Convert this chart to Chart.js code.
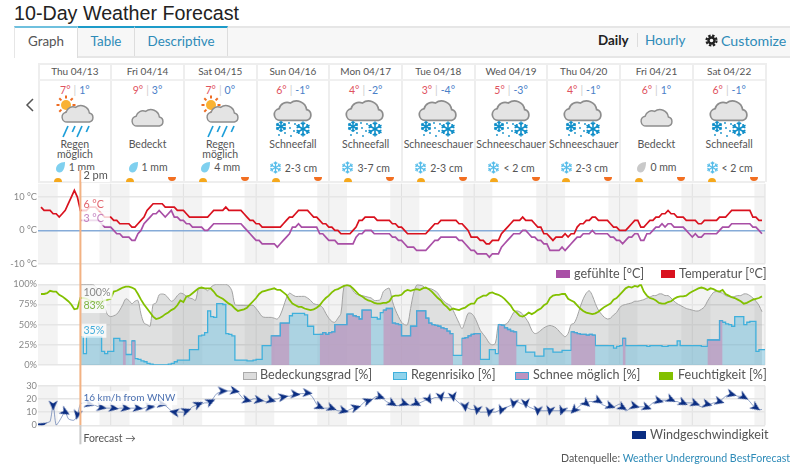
<!DOCTYPE html>
<html lang="de">
<head>
<meta charset="utf-8">
<title>10-Day Weather Forecast</title>
<script src="https://cdn.jsdelivr.net/npm/chart.js@4/dist/chart.umd.min.js"></script>
<style>
  html, body { margin: 0; padding: 0; background: #fff; }
  body { width: 800px; height: 473px; overflow: hidden; position: relative; font-family: Lato, sans-serif; color: #555; }
  .abs { position: absolute; white-space: nowrap; }
  #title { left: 14px; top: 1px; font: 19.7px "Liberation Sans", Arial, sans-serif; color: #222; line-height: 24px; }
  #tabbar { left: 14px; top: 26px; width: 776px; height: 28px; background: #f7f7f7; border-top: 2px solid #e6e6e6; border-bottom: 2px solid #e6e6e6; }
  .tab { top: 26px; height: 28px; line-height: 27px; text-align: center; font-size: 13.4px; border-top: 2px solid #1d9bc9; border-right: 1px solid #ddd; color: #2e8bb8; box-sizing: content-box; }
  .link { color: #2e8bb8; }
  .rule { position: absolute; background: #eee; }
  .cell { position: absolute; top: 63px; width: 72.7px; height: 118px; border-right: 0; text-align: center; overflow: visible; }
  .date { height: 16px; line-height: 17px; font-size: 10px; border-bottom: 2px solid #f0f0f0; }
  .temps { position: absolute; top: 21px; left: 0; right: 0; font-size: 10.5px; line-height: 12px; }
  .hi { color: #e0525e; } .lo { color: #4a80c8; } .sep { color: #ccc; margin: 0 3px; }
  .cell svg { position: absolute; left: 0; top: 32px; }
  .cond { position: absolute; top: 76px; left: -3px; right: -3px; font-size: 10.5px; line-height: 10px; }
  .prec { position: absolute; top: 98px; left: 0; right: 0; font-size: 10.5px; line-height: 12px; }
  .prec svg { position: static; vertical-align: -2px; margin-right: 3px; }
  .rise { position: absolute; top: 115px; width: 8px; height: 4px; border-radius: 4px 4px 0 0; background: #f5a81c; }
  .set { position: absolute; top: 114px; width: 8px; height: 4px; border-radius: 0 0 4px 4px; background: #f26f21; }
  canvas { position: absolute; left: 0; }
  .swatch { position: absolute; width: 14px; height: 8px; box-sizing: border-box; border: 1px solid; }
  .legend { position: absolute; font-size: 12.6px; line-height: 14px; color: #555; white-space: nowrap; }
</style>
</head>
<body>
<div class="abs" id="title">10-Day Weather Forecast</div>
<div class="abs" id="tabbar"></div>
<div class="abs tab" style="left:14px;width:62px;background:#fff;border-top-color:#6fc0de;color:#555;height:30px;border-left:1px solid #e6e6e6;">Graph</div>
<div class="abs tab" style="left:78px;width:56px;">Table</div>
<div class="abs tab" style="left:135px;width:92px;">Descriptive</div>
<div class="abs" style="left:598px;top:32px;font-size:13.4px;font-weight:700;color:#222;">Daily</div>
<div class="abs" style="left:637px;top:33px;width:1px;height:14px;background:#ddd;"></div>
<div class="abs link" style="left:645px;top:32px;font-size:13.5px;">Hourly</div>
<svg class="abs" style="left:705px;top:34px" width="13" height="13" viewBox="0 0 13 13">
  <circle cx="6.500" cy="6.500" r="3" fill="none" stroke="#222" stroke-width="2.400"/>
  <circle cx="6.500" cy="6.500" r="5" fill="none" stroke="#222" stroke-width="2.200" stroke-dasharray="2.400 1.530"/>
</svg>
<div class="abs link" style="left:721px;top:32px;font-size:14.2px;">Customize</div>
<svg class="abs" style="left:25px;top:97px" width="10" height="16" viewBox="0 0 10 16"><polyline points="8,2 2,8 8,14" fill="none" stroke="#555" stroke-width="1.500"/></svg>

<div class="rule" style="left:38px;top:63px;width:727px;height:2px;"></div>
<div class="rule" style="left:38px;top:63px;width:2px;height:119px;"></div>
<div class="rule" style="left:38px;top:181px;width:727px;height:2px;"></div>
<div id="table"></div>

<canvas id="tempChart" width="800" height="105" style="top:170px"></canvas>
<canvas id="humChart" width="800" height="103" style="top:275px"></canvas>
<canvas id="windChart" width="800" height="72" style="top:378px"></canvas>

<div class="swatch" style="left:556px;top:270px;background:#a94fa6;border-color:#a94fa6;"></div>
<div class="legend" style="left:574px;top:267px;">gefühlte [°C]</div>
<div class="swatch" style="left:661px;top:270px;background:#d9111e;border-color:#d9111e;"></div>
<div class="legend" style="left:679px;top:267px;">Temperatur [°C]</div>

<div class="swatch" style="left:243px;top:372px;background:#dcdcdc;border-color:#aaa;"></div>
<div class="legend" style="left:260px;top:368px;">Bedeckungsgrad [%]</div>
<div class="swatch" style="left:393px;top:372px;background:#8fd3ec;border-color:#3fb0dc;"></div>
<div class="legend" style="left:411px;top:368px;">Regenrisiko [%]</div>
<div class="swatch" style="left:515px;top:372px;background:#bd93c0;border-color:#3fa4d8;"></div>
<div class="legend" style="left:533px;top:368px;">Schnee möglich [%]</div>
<div class="swatch" style="left:659px;top:372px;background:#82c000;border-color:#82c000;"></div>
<div class="legend" style="left:678px;top:368px;">Feuchtigkeit [%]</div>

<div class="swatch" style="left:632px;top:431px;background:#0a2d82;border-color:#0a2d82;"></div>
<div class="legend" style="left:650px;top:428px;">Windgeschwindigkeit</div>

<div class="legend" style="left:561px;top:451px;font-size:10.6px;">Datenquelle: <span class="link">Weather Underground BestForecast</span></div>

<script>
const _ = null;

const dayNames = ['Thu 04/13', 'Fri 04/14', 'Sat 04/15', 'Sun 04/16', 'Mon 04/17', 'Tue 04/18', 'Wed 04/19', 'Thu 04/20', 'Fri 04/21', 'Sat 04/22'];
const dayHighs = [7, 9, 7, 6, 4, 3, 5, 4, 6, 6];
const dayLows = [1, 3, 0, -1, -2, -4, -3, -1, 1, -1];
const dayConds = ['Regen möglich', 'Bedeckt', 'Regen möglich', 'Schneefall', 'Schneefall', 'Schneeschauer', 'Schneeschauer', 'Schneeschauer', 'Bedeckt', 'Schneefall'];
const dayIcons = ['rain', 'cloud', 'rain', 'snow', 'snow', 'snow', 'snow', 'snow', 'cloud', 'snow'];
const dayPrecip = ['1 mm', '1 mm', '4 mm', '2-3 cm', '3-7 cm', '2-3 cm', '< 2 cm', '2-3 cm', '0 mm', '< 2 cm'];

// hourly series, index = hours since Thu 00:00
const temperature = [
  _,7,6,6,6,5,5,4,5,6,8,10,12,10,6,6,6,7,7,7,6,5,4,4,
  4,3,3,2,2,2,2,1,1,2,3,4,6,7,8,8,8,8,7,7,7,7,6,6,
  6,5,4,4,4,4,4,4,4,5,6,6,6,6,7,6,6,6,6,6,5,4,3,3,
  2,2,1,1,1,1,1,1,1,2,3,4,4,5,6,6,6,6,5,4,4,3,2,2,
  1,1,0,0,-1,-1,-1,-1,0,1,3,3,4,4,4,4,3,3,3,3,3,2,2,1,
  1,0,-1,-1,-1,-1,-1,-1,-1,0,1,2,2,3,3,3,3,3,3,2,2,1,0,-2,
  -2,-2,-3,-3,-4,-4,-3,-3,-3,-1,0,1,2,3,3,3,4,3,3,3,2,1,1,-1,
  -1,-2,-3,-2,-2,-2,-1,-2,-1,-1,1,2,2,3,3,4,4,3,3,3,3,2,1,1,
  0,0,0,1,2,3,3,1,1,2,3,3,4,4,5,5,6,5,5,4,4,4,3,3,
  3,3,2,2,3,3,3,3,3,4,4,4,5,6,6,6,6,6,6,6,4,4,3,3
];
const feelsLike = [
  _,_,_,_,_,_,_,_,_,_,_,_,_,_,3,3,3,3,3,3,3,2,1,1,
  1,0,-1,-1,-2,-2,-2,-3,-3,-1,0,2,3,4,5,5,6,5,4,5,6,4,4,3,
  3,2,2,1,1,1,1,0,0,1,2,2,2,2,2,2,2,2,2,2,1,0,-1,-2,
  -3,-3,-4,-4,-4,-4,-4,-5,-4,-3,-2,-1,1,1,2,1,1,1,1,1,1,-1,-1,-2,
  -3,-3,-3,-4,-4,-4,-4,-4,-4,-2,-1,-1,0,0,0,-1,-1,-1,-1,-1,-1,-2,-2,-3,
  -3,-4,-5,-5,-5,-6,-6,-6,-6,-5,-4,-3,-3,-2,-2,-2,-2,-2,-2,-3,-3,-4,-5,-6,
  -6,-7,-7,-7,-7,-8,-7,-7,-7,-5,-4,-3,-2,-1,-1,-1,0,0,-1,-2,-2,-3,-3,-4,
  -4,-6,-6,-6,-6,-5,-6,-5,-4,-3,-2,-2,-1,-1,-1,0,-1,-1,-1,-1,-1,-2,-2,-3,
  -3,-4,-3,-2,-2,-1,-1,-3,-3,-1,-1,0,1,1,2,1,2,2,1,1,1,1,0,-1,
  -2,-1,-2,-2,-1,-1,-1,-1,-1,0,1,1,1,2,2,2,2,2,2,2,1,1,0,-1
];
const humidity = [
  _,88,88,89,92,91,91,87,85,82,79,75,69,70,83,83,82,80,79,78,78,79,80,81,
  82,91,92,94,96,97,97,96,94,88,81,75,70,65,60,57,58,60,63,65,68,70,74,80,
  78,85,86,89,92,95,96,95,95,95,91,86,84,82,79,76,74,70,67,68,69,71,75,79,
  83,88,91,92,93,94,95,93,93,90,87,81,76,74,72,72,70,69,68,69,71,74,79,83,
  86,90,93,94,96,98,99,98,95,91,87,85,82,80,79,77,76,76,77,77,79,85,86,86,
  87,91,93,92,93,94,93,95,96,94,91,87,83,80,75,72,68,70,69,68,70,71,74,76,
  76,82,84,86,86,89,90,88,87,85,82,78,74,68,65,61,60,62,65,63,65,68,70,74,
  76,83,86,87,87,88,88,82,80,78,74,70,67,65,64,63,64,66,69,72,74,76,81,83,
  87,91,95,97,96,98,97,100,91,86,83,82,80,77,76,76,78,79,82,84,85,85,86,89,
  91,93,95,96,95,93,95,94,92,91,93,88,86,84,83,81,79,76,77,79,81,82,83,85
];
const cloudCover = [
  _,_,_,_,_,_,_,_,_,_,_,_,_,_,100,100,100,100,100,97,92,85,72,62,
  60,61,63,68,75,82,80,76,79,80,63,52,50,48,75,77,87,88,87,83,79,81,86,89,
  88,85,83,82,80,95,95,95,92,96,99,100,100,100,100,98,92,75,74,74,74,74,74,74,
  70,65,60,59,59,59,58,57,62,72,83,89,87,85,85,85,85,83,80,76,75,74,71,64,
  58,54,53,58,64,97,99,98,92,88,87,86,85,84,83,80,80,81,91,94,95,79,68,60,
  53,50,50,70,89,99,99,98,95,95,94,92,89,83,79,76,74,68,60,52,45,54,64,64,
  60,52,43,38,33,27,25,27,50,50,50,52,58,65,67,66,63,58,52,43,39,40,43,46,
  48,49,48,46,42,38,35,39,50,52,60,72,82,89,92,86,76,68,63,59,57,58,62,65,
  71,74,75,76,77,79,79,80,81,83,84,86,86,88,88,86,86,83,79,76,74,72,70,69,
  68,67,67,69,72,79,85,90,91,90,89,86,85,84,85,86,86,88,88,86,83,79,74,66
];
const rainRisk = [
  _,_,_,_,_,_,_,_,_,_,_,_,_,_,35,14,35,35,35,35,35,17,14,17,
  17,33,33,30,30,13,13,30,8,7,5,4,2,1,0,0,0,0,0,1,2,4,6,6,
  6,6,19,19,19,36,37,40,67,60,59,76,76,75,39,38,36,6,6,6,6,5,5,6,
  7,7,24,24,24,36,36,36,52,52,52,61,64,64,64,64,62,48,48,38,38,38,40,38,
  40,41,50,50,50,50,63,63,61,60,57,68,68,68,59,59,57,65,68,70,70,52,51,50,
  36,36,36,48,48,67,67,67,58,52,50,49,48,46,45,42,39,12,12,12,33,34,36,38,
  39,39,7,7,7,19,19,14,50,49,46,44,42,41,24,24,24,16,16,16,11,11,11,20,
  20,20,16,16,16,18,18,18,41,40,39,38,38,37,38,37,24,24,24,24,24,24,21,23,
  24,33,24,24,24,24,24,24,24,23,24,24,24,24,23,23,24,24,24,30,24,24,24,24,
  24,24,24,23,23,31,31,31,31,55,53,51,50,48,60,60,60,50,53,54,54,17,19,19,19
];
const snowChance = [
  _,_,_,_,_,_,_,_,_,_,_,_,_,_,_,_,_,_,_,_,_,_,_,_,
  _,_,_,_,30,30,_,30,30,_,_,_,_,_,_,_,_,_,_,_,_,_,_,_,
  _,_,_,_,_,_,_,_,_,_,_,_,_,_,_,_,_,_,_,_,_,_,_,_,
  _,_,_,_,_,36,36,36,52,52,52,52,_,_,_,_,_,_,_,_,_,38,40,38,
  40,41,50,50,50,50,63,63,61,60,57,68,68,68,68,_,_,_,68,70,70,52,51,50,
  36,36,36,48,48,67,67,67,58,52,50,49,48,46,45,42,39,39,_,_,33,34,36,38,
  39,39,39,_,_,_,_,_,50,49,46,44,42,41,41,_,_,_,_,_,_,_,_,_,
  _,_,_,_,_,_,_,_,41,40,39,38,38,37,38,37,37,_,_,_,_,_,_,_,
  _,33,33,_,_,_,_,_,_,_,_,_,_,_,_,_,_,_,_,_,_,_,_,_,
  _,_,_,_,_,31,31,31,31,55,55,_,_,_,_,_,_,_,_,_,_,_,_,_
];
const windSpeed = [
  _,0,1,2,3,15,0,3,7,10,5,4,4,8,16,17,17,16,16,15,14,13.5,13,13,
  13,13,12.5,13,13,13,13,13,13,13,13,13,14,14,15,16,16,16,15,13,11,10,10,10,
  10,11,12,14,15,16,16,17,17,18,21,24,25,26,26,26,26,26,25,22,20,19,19,20,
  20,19,19,18,18,19,20,20,21,21.5,22,22,23,23.5,24,24,24,24.5,23,20,16,14,13,13,
  13,13,12,11,11,11,11,12,13,13.5,14,16,18,18.5,19,21,22,21.5,20,18,17,16.5,15,15,
  16,16.5,16,15,15,16.5,17,18,19,19.5,20,21,21,21.5,21,21,21,21.5,19,17,15,14,13,12,
  12,11.5,10,10,10,10,10,10,11,11.5,13,14,15,16.5,18,17,16,16.5,14,13,12,11,11,11,
  11,11,11,11,11,11,11,11,11,11.5,13,15,16,16.5,18,18,18,18.5,16,15,14,14.5,14,15,
  16,13.5,11,12,14,14.5,14,14,14,13.5,15,17,18,18.5,19,19,19,19.5,18,18,17,17,17,17,
  17,16.5,15,14,14,16,16,17,17,18,20,22,23,23.5,23,22,22,21.5,20,18,15,13.5,12,12
];
// arrow heading at hours 1, 5, 9 ... in degrees clockwise from east
const windHeadings = [
  200,90,30,100,15,10,10,10,10,0,
  10,190,-20,-25,-25,0,10,15,10,15,
  -10,5,5,25,20,15,-15,-20,20,30,
  20,30,60,80,80,85,100,100,110,100,
  85,95,100,110,135,40,30,20,30,15,
  20,15,25,25,20,15,15,15,30,35
];

const nightBands = [[0,6.5],[20.3,30.2],[44.3,54.2],[68.2,78],[92.2,102],[116.3,125.9],[140.4,150],[164.5,174],[188.3,197.9],[212.4,222],[236.5,240]];
const midnights = [24,48,72,96,120,144,168,192,216,240];
const forecastHour = 14;
const tempTicks = [-10, 0, 10];
const humTicks = [0, 25, 50, 75, 100];
const windTicks = [0, 10, 20, 30];

// forecast table above the charts
function cloudPath(x, y, s) {
  return '<path transform="translate(' + x + ' ' + y + ') scale(' + s + ')" d="M7 21a5.8 5.8 0 0 1-1-11.5 8 8 0 0 1 11-5.5 10 10 0 0 1 16 6.5 5.4 5.4 0 0 1 0 10.500z" fill="#e4e4e4" stroke="#8d8d8d" stroke-width="1.7"/>';
}
function flake(cx, cy, r, col, w) {
  let p = '';
  for (let a = 0; a < 6; a++) {
    const t = a * Math.PI / 3 + Math.PI / 6;
    const ex = cx + r * Math.cos(t), ey = cy + r * Math.sin(t);
    p += '<line x1="' + cx + '" y1="' + cy + '" x2="' + ex + '" y2="' + ey + '"/>';
    const mx = cx + r * .62 * Math.cos(t), my = cy + r * .62 * Math.sin(t);
    p += '<line x1="' + mx + '" y1="' + my + '" x2="' + (mx + r * .35 * Math.cos(t + 1)) + '" y2="' + (my + r * .35 * Math.sin(t + 1)) + '"/>';
    p += '<line x1="' + mx + '" y1="' + my + '" x2="' + (mx + r * .35 * Math.cos(t - 1)) + '" y2="' + (my + r * .35 * Math.sin(t - 1)) + '"/>';
  }
  return '<g stroke="' + col + '" stroke-width="' + w + '" fill="none">' + p + '</g>';
}
function weatherIcon(kind) {
  let s = '<svg width="72" height="46" viewBox="0 0 72 46">';
  if (kind === 'cloud') {
    s += cloudPath(20, 13, 0.86);
  } else if (kind === 'rain') {
    s += '<circle cx="27" cy="10" r="5" fill="#f9b233"/>';
    for (let a = 0; a < 8; a++) {
      const t = a * Math.PI / 4;
      s += '<line x1="' + (27 + 6.5 * Math.cos(t)) + '" y1="' + (10 + 6.5 * Math.sin(t)) + '" x2="' + (27 + 9.5 * Math.cos(t)) + '" y2="' + (10 + 9.5 * Math.sin(t)) + '" stroke="#ee6c22" stroke-width="2"/>';
    }
    s += cloudPath(22, 9, 0.86);
    for (let i = 0; i < 4; i++) {
      const len = i % 2 ? 6 : 11;
      const x0 = 29 + i * 7;
      s += '<line x1="' + x0 + '" y1="31" x2="' + (x0 - len * .45) + '" y2="' + (31 + len) + '" stroke="#1d9ed9" stroke-width="1.7"/>';
    }
  } else {
    s += cloudPath(16, 4, 1.02);
    s += flake(24, 31.500, 5.500, '#0f8ec8', 1.5);
    s += flake(46, 34, 7.500, '#0f8ec8', 1.6);
    [[32,28],[33,33],[28,38],[37,36],[34,41],[38,29],[22,40]].forEach(function (d) {
      s += '<circle cx="' + d[0] + '" cy="' + d[1] + '" r="0.9" fill="#0f8ec8"/>';
    });
  }
  return s + '</svg>';
}
function precipIcon(kind) {
  if (kind === 'snow') {
    return '<svg width="13" height="13" viewBox="0 0 13 13">' + flake(6.500, 6.500, 6, '#55bce9', 1.3) + '</svg>';
  }
  const col = kind === 'dry' ? '#c9c9c9' : '#7fd0ef';
  return '<svg width="11" height="12" viewBox="0 0 11 12"><path d="M10 1C5 1 1 4 1 8c0 2 1.500 3.500 3.500 3.500C8 11.500 10 7 10 1z" fill="' + col + '"/></svg>';
}
let html = '';
dayNames.forEach(function (d, i) {
  const precip = dayPrecip[i];
  const kind = precip.indexOf('cm') > 0 ? 'snow' : (precip === '0 mm' ? 'dry' : 'rain');
  html += '<div class="cell" style="left:' + (38.5 + i * 72.7) + 'px">' +
    '<div class="date">' + d + '</div>' +
    '<div class="temps"><span class="hi">' + dayHighs[i] + '°</span><span class="sep">|</span><span class="lo">' + dayLows[i] + '°</span></div>' +
    weatherIcon(dayIcons[i]) +
    '<div class="cond">' + dayConds[i].replace(' ', '<br>') + '</div>' +
    '<div class="prec">' + precipIcon(kind) + precip.replace('<', '&lt;') + '</div>' +
    '<div class="rise" style="left:15px"></div>' +
    (i > 0 ? '<div class="set" style="left:57px"></div>' : '') +
    '</div>' +
    '<div class="rule" style="left:' + (110.200 + i * 72.7) + 'px;top:63px;width:2px;height:119px;"></div>';
});
document.getElementById('table').innerHTML = html;

// helpers
const toPoints = arr => arr.map((v, h) => ({ x: h, y: v }));
const tickColor = '#888';
const tickFont = { family: 'Lato', size: 9.3 };

const crossColor = '#f2b283';
function hoverLabel(ctx, text, x, y, color, extra, size) {
  ctx.font = (size || 10.7) + 'px Lato';
  const w = ctx.measureText(text).width;
  ctx.fillStyle = 'rgba(255,255,255,0.8)';
  ctx.fillRect(x - 2, y - 7, w + 4 + (extra || 0), 14);
  ctx.fillStyle = color;
  ctx.textAlign = 'left';
  ctx.textBaseline = 'middle';
  ctx.fillText(text, x, y);
}

// night bands and midnight lines behind the grid
const nightPlugin = {
  id: 'night',
  beforeDraw(chart) {
    const { ctx, chartArea: a, scales: { x } } = chart;
    ctx.save();
    ctx.fillStyle = '#f3f3f3';
    nightBands.forEach(b => ctx.fillRect(x.getPixelForValue(b[0]), a.top, x.getPixelForValue(b[1]) - x.getPixelForValue(b[0]), a.bottom - a.top));
    ctx.fillStyle = '#e0e0e0';
    midnights.forEach(h => ctx.fillRect(x.getPixelForValue(h) - 0.5, a.top, 1, a.bottom - a.top));
    ctx.restore();
  }
};

// crosshair at the first forecast hour, with its value labels
const crossPlugin = {
  id: 'cross',
  afterDatasetsDraw(chart, args, opts) {
    const { ctx, chartArea: a, scales: { x, y } } = chart;
    const px = x.getPixelForValue(forecastHour);
    ctx.save();
    (opts.labels || []).forEach(l => hoverLabel(ctx, l.text, px + 3, y.getPixelForValue(l.value) + (l.dy || 0), l.color, l.extra, l.size));
    ctx.fillStyle = crossColor;
    ctx.fillRect(px - 1, 0, 2, a.bottom + (opts.tail ? 0 : chart.height));
    if (opts.head) {
      ctx.font = '11px Lato';
      const w = ctx.measureText(opts.head).width;
      ctx.fillStyle = '#fff';
      ctx.fillRect(px + 1, 0, w + 4, 12);
      ctx.fillStyle = '#555';
      ctx.textAlign = 'left';
      ctx.textBaseline = 'middle';
      ctx.fillText(opts.head, px + 3, 5.500);
    }
    if (opts.tail) {
      ctx.fillStyle = '#c8c8c8';
      ctx.fillRect(px - 1, a.bottom, 2, 19);
      ctx.font = '10.5px Lato';
      ctx.fillStyle = '#555';
      ctx.textAlign = 'left';
      ctx.textBaseline = 'middle';
      ctx.fillText(opts.tail, px + 3, a.bottom + 13);
    }
    ctx.restore();
  }
};

function baseOptions(min, max, ticks, fmt, pad, gridColor, cross) {
  return {
    responsive: false,
    animation: false,
    events: [],
    layout: { padding: { left: 0, right: 35, top: pad[0], bottom: pad[1] } },
    plugins: { legend: { display: false }, tooltip: { enabled: false }, cross: cross },
    scales: {
      x: { type: 'linear', min: 0, max: 240, display: false },
      y: {
        min: min, max: max,
        afterFit(s) { s.width = 38; },
        afterBuildTicks(s) { s.ticks = ticks.map(v => ({ value: v })); },
        border: { display: false },
        grid: { color: gridColor, lineWidth: 1.5, drawTicks: false },
        ticks: { color: tickColor, font: tickFont, padding: 1, callback: fmt, autoSkip: false }
      }
    }
  };
}

const greyLine = '#e6e6e6';

new Chart(document.getElementById('tempChart'), {
  type: 'line',
  data: {
    datasets: [
      { label: 'Temperatur [°C]', data: toPoints(temperature), borderColor: '#d9111e', borderWidth: 1.700, pointRadius: 0 },
      { label: 'gefühlte [°C]', data: toPoints(feelsLike), borderColor: '#a94fa6', borderWidth: 1.700, pointRadius: 0 }
    ]
  },
  options: baseOptions(-10, 14, tempTicks, v => v + ' °C', [13.7, 11.2], c => c.tick.value === 0 ? '#86abd8' : greyLine, {
    head: '2 pm',
    labels: [
      { text: '6 °C', value: temperature[forecastHour], dy: -6, extra: 4, color: 'rgba(217,60,70,0.8)' },
      { text: '3 °C', value: feelsLike[forecastHour], dy: -2, extra: 4, color: 'rgba(169,79,166,0.7)' }
    ]
  }),
  plugins: [nightPlugin, crossPlugin]
});

new Chart(document.getElementById('humChart'), {
  type: 'line',
  data: {
    datasets: [
      { label: 'Feuchtigkeit [%]', data: toPoints(humidity), borderColor: '#82c000', borderWidth: 1.800, pointRadius: 0 },
      { label: 'Schnee möglich [%]', data: toPoints(snowChance), borderColor: '#4aa8d8', borderWidth: 1.300, backgroundColor: 'rgba(195,150,188,0.72)', fill: 'origin', stepped: true, pointRadius: 0 },
      { label: 'Regenrisiko [%]', data: toPoints(rainRisk), borderColor: '#3fb0dc', borderWidth: 1.300, backgroundColor: 'rgba(110,195,228,0.45)', fill: 'origin', stepped: true, pointRadius: 0 },
      { label: 'Bedeckungsgrad [%]', data: toPoints(cloudCover), borderColor: '#a3a3a3', borderWidth: 1, backgroundColor: 'rgba(130,135,135,0.26)', fill: 'origin', pointRadius: 0, tension: 0.3 }
    ]
  },
  options: baseOptions(0, 100, humTicks, v => v + '%', [9.3, 13], greyLine, {
    labels: [
      { text: '100%', value: 100, dy: 8, color: '#888' },
      { text: '83%', value: humidity[forecastHour], dy: 8, color: '#7db342' },
      { text: '35%', value: rainRisk[forecastHour], dy: -6, color: '#45aedb' }
    ]
  }),
  plugins: [nightPlugin, crossPlugin]
});

// dart shaped wind arrow, pointing east, rotated per point by the library
const arrow = document.createElement('canvas');
arrow.width = 11;
arrow.height = 11;
const ac = arrow.getContext('2d');
ac.fillStyle = '#0a2d82';
ac.beginPath();
ac.moveTo(10.500, 5.500);
ac.lineTo(0.500, 1);
ac.lineTo(3.500, 5.500);
ac.lineTo(0.500, 10);
ac.closePath();
ac.fill();

new Chart(document.getElementById('windChart'), {
  type: 'line',
  data: {
    datasets: [{
      label: 'Windgeschwindigkeit',
      data: toPoints(windSpeed),
      borderColor: 'rgba(40,75,150,0.5)',
      borderWidth: 1,
      tension: 0.3,
      pointStyle: arrow,
      pointRadius: c => (c.dataIndex % 4 === 1 ? 6 : 0),
      pointRotation: c => (c.dataIndex % 4 === 1 ? windHeadings[(c.dataIndex - 1) / 4] : 0)
    }]
  },
  options: baseOptions(0, 30, windTicks, v => v, [7.7, 24.7], greyLine, {
    tail: 'Forecast →',
    labels: [{ text: '16 km/h from WNW', value: windSpeed[forecastHour], dy: -6, size: 10, color: '#4a6fb0' }]
  }),
  plugins: [nightPlugin, crossPlugin]
});
</script>
</body>
</html>
